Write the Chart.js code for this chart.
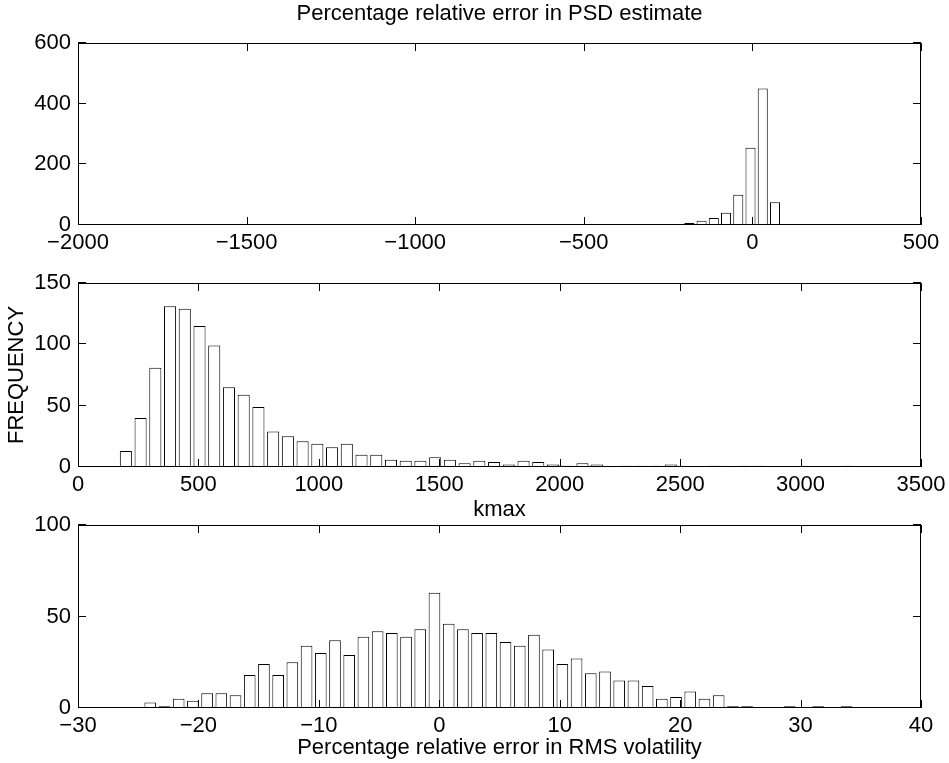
<!DOCTYPE html>
<html>
<head>
<meta charset="utf-8">
<title>Histograms</title>
<script src="https://cdn.jsdelivr.net/npm/chart.js@4.4.1/dist/chart.umd.min.js"></script>
<style>
  html, body { margin: 0; padding: 0; background: #fff; }
  #wrap { position: relative; width: 949px; height: 763px; }
  #wrap canvas { position: absolute; left: 0; top: 0; }
</style>
</head>
<body>
<div id="wrap">
  <canvas id="psdChart" width="949" height="763"></canvas>
  <canvas id="kmaxChart" width="949" height="763"></canvas>
  <canvas id="rmsChart" width="949" height="763"></canvas>
</div>
<script>
// top: percentage relative error in PSD estimate (bin centres, counts)
var psdBins = [-1711.7, -1675.4, -1639.1, -1602.8, -1566.5, -1530.2, -1493.9, -1457.6, -1421.3, -1385.0,
               -1348.7, -1312.4, -1276.1, -1239.8, -1203.5, -1167.2, -1130.9, -1094.6, -1058.3, -1022.0,
               -985.7, -949.4, -913.1, -876.8, -840.5, -804.2, -767.9, -731.6, -695.3, -659.0,
               -622.7, -586.4, -550.1, -513.8, -477.5, -441.2, -404.9, -368.6, -332.3, -296.0,
               -259.7, -223.4, -187.1, -150.8, -114.5, -78.2, -41.9, -5.6, 30.7, 67.0];
var psdCounts = [1, 0, 0, 0, 0, 0, 0, 0, 0, 0,
                 0, 0, 0, 0, 0, 0, 0, 0, 0, 0,
                 0, 0, 0, 0, 0, 0, 0, 0, 1, 1,
                 0, 0, 0, 1, 0, 0, 0, 1, 1, 1,
                 1, 3, 7, 14, 23, 40, 100, 255, 450, 75];

// middle: kmax
var kmaxBins = [198.7, 259.9, 321.0, 382.2, 443.3, 504.5, 565.6, 626.8, 687.9, 749.1,
                810.2, 871.4, 932.5, 993.7, 1054.8, 1116.0, 1177.1, 1238.3, 1299.4, 1360.6,
                1421.7, 1482.9, 1544.0, 1605.2, 1666.3, 1727.5, 1788.6, 1849.8, 1910.9, 1972.1,
                2033.2, 2094.4, 2155.5, 2216.7, 2277.8, 2339.0, 2400.1, 2461.3, 2522.4, 2583.6,
                2644.7, 2705.9, 2767.0, 2828.2, 2889.3, 2950.5, 3011.6, 3072.8, 3133.9, 3195.1];
var kmaxCounts = [13, 40, 81, 131, 129, 115, 99, 65, 59, 49,
                  29, 25, 21, 19, 16, 19, 10, 10, 6, 5,
                  5, 8, 6, 3, 5, 4, 2, 5, 4, 2,
                  1, 3, 2, 0, 1, 1, 1, 2, 0, 0,
                  1, 0, 1, 1, 0, 0, 0, 0, 0, 1];

// bottom: percentage relative error in RMS volatility
var rmsBins = [-24.00, -22.82, -21.64, -20.46, -19.28, -18.10, -16.92, -15.74, -14.56, -13.38,
               -12.20, -11.02, -9.84, -8.66, -7.48, -6.30, -5.12, -3.94, -2.76, -1.58,
               -0.40, 0.78, 1.96, 3.14, 4.32, 5.50, 6.68, 7.86, 9.04, 10.22,
               11.40, 12.58, 13.76, 14.94, 16.12, 17.30, 18.48, 19.66, 20.84, 22.02,
               23.20, 24.38, 25.56, 26.74, 27.92, 29.10, 30.28, 31.46, 32.64, 33.82];
var rmsCounts = [3, 1, 5, 4, 8, 8, 7, 18, 24, 18,
                 25, 34, 30, 37, 29, 39, 42, 41, 39, 43,
                 63, 46, 43, 41, 41, 36, 34, 40, 32, 24,
                 27, 19, 20, 15, 15, 12, 5, 6, 9, 5,
                 7, 1, 1, 0, 0, 1, 0, 1, 0, 1];

var FONT = '"Liberation Sans", Arial, Helvetica, sans-serif';
var FSIZE = 22;

function tickText(value) {
    return value < 0 ? '\u2212' + Math.abs(value) : String(value);
}

// matlab style box with inward ticks on all 4 sides
var matlabAxes = {
    id: 'matlabAxes',
    afterDatasetsDraw: function (chart) {
        var ctx = chart.ctx, a = chart.chartArea;
        var xs = chart.scales.x, ys = chart.scales.y;
        var len = 8;
        ctx.save();
        ctx.strokeStyle = '#000';
        ctx.lineWidth = 1;
        ctx.beginPath();
        xs.ticks.forEach(function (t) {
            var p = Math.round(xs.getPixelForValue(t.value)) + 0.5;
            ctx.moveTo(p, a.bottom); ctx.lineTo(p, a.bottom - len);
            ctx.moveTo(p, a.top); ctx.lineTo(p, a.top + len);
        });
        ys.ticks.forEach(function (t) {
            var p = Math.round(ys.getPixelForValue(t.value)) - 0.5;
            ctx.moveTo(a.left, p); ctx.lineTo(a.left + len, p);
            ctx.moveTo(a.right, p); ctx.lineTo(a.right - len, p);
        });
        ctx.stroke();
        ctx.strokeRect(a.left + 0.5, a.top + 0.5, a.right - a.left - 1, a.bottom - a.top - 1);
        ctx.restore();
    }
};

function histChart(canvasId, bins, counts, s) {
    var points = [];
    for (var i = 0; i < bins.length; i++) {
        points.push({x: bins[i], y: counts[i]});
    }
    return new Chart(document.getElementById(canvasId), {
        type: 'bar',
        plugins: [matlabAxes],
        data: {
            datasets: [{
                data: points,
                backgroundColor: '#ffffff',
                borderColor: '#000000',
                borderWidth: 1,
                barPercentage: 0.82,
                categoryPercentage: 1
            }]
        },
        options: {
            responsive: false,
            devicePixelRatio: 1,
            animation: false,
            events: [],
            layout: {padding: s.padding},
            plugins: {
                legend: {display: false},
                tooltip: {enabled: false},
                title: s.title || {display: false}
            },
            scales: {
                x: {
                    type: 'linear',
                    offset: false,
                    min: s.xMin, max: s.xMax,
                    grid: {display: false, drawTicks: false, offset: false},
                    border: {display: false},
                    ticks: {stepSize: s.xStep, padding: 5, color: '#000', maxRotation: 0, autoSkip: false,
                            font: {family: FONT, size: FSIZE}, callback: tickText},
                    title: s.xTitle || {display: false},
                    afterFit: function (sc) {
                        sc.height = s.xHeight;
                        sc.paddingLeft = 0;
                        sc.paddingRight = 0;
                    }
                },
                y: {
                    min: 0, max: s.yMax,
                    grid: {display: false, drawTicks: false},
                    border: {display: false},
                    ticks: {stepSize: s.yStep, padding: 7, color: '#000',
                            font: {family: FONT, size: FSIZE}, callback: tickText},
                    title: s.yTitle || {display: false},
                    afterFit: function (sc) {
                        sc.width = 78;
                        sc.paddingTop = 0;
                        sc.paddingBottom = 0;
                    }
                }
            }
        }
    });
}

histChart('psdChart', psdBins, psdCounts, {
    padding: {top: 0, left: 0, right: 28, bottom: 500},
    xMin: -2000, xMax: 500, xStep: 500, yMax: 600, yStep: 200, xHeight: 38,
    title: {display: true, text: 'Percentage relative error in PSD estimate', color: '#000', fullSize: false,
            font: {family: FONT, size: FSIZE, weight: 'normal'}, padding: {top: 1, bottom: 15.6}}
});

histChart('kmaxChart', kmaxBins, kmaxCounts, {
    padding: {top: 283, left: 0, right: 28, bottom: 238},
    xMin: 0, xMax: 3500, xStep: 500, yMax: 150, yStep: 50, xHeight: 58,
    xTitle: {display: true, text: 'kmax', color: '#000', font: {family: FONT, size: FSIZE},
             padding: {top: 0, bottom: 1.8}},
    yTitle: {display: true, text: 'FREQUENCY', color: '#000', font: {family: FONT, size: FSIZE},
             padding: {top: 4, bottom: 0}}
});

histChart('rmsChart', rmsBins, rmsCounts, {
    padding: {top: 525, left: 0, right: 28, bottom: 0},
    xMin: -30, xMax: 40, xStep: 10, yMax: 100, yStep: 50, xHeight: 55,
    xTitle: {display: true, text: 'Percentage relative error in RMS volatility', color: '#000',
             font: {family: FONT, size: FSIZE}, padding: {top: 0, bottom: 1.8}}
});
</script>
</body>
</html>
